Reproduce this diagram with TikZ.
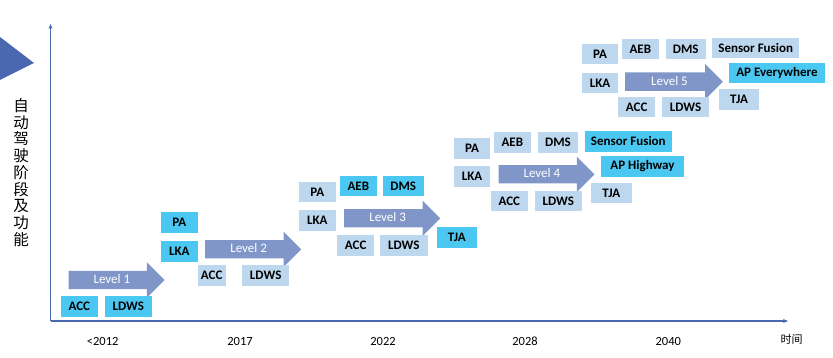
\documentclass[tikz,border=0pt]{standalone}
\usepackage{fontspec}
\setmainfont{Carlito}
\newfontfamily\cjk{Noto Sans CJK SC}
\usetikzlibrary{shapes.arrows,arrows.meta}
\definecolor{axisblue}{HTML}{4A68B0}
\definecolor{newfeat}{HTML}{4BC8F2}
\definecolor{oldfeat}{HTML}{BDD7EE}
\definecolor{lvlblue}{HTML}{8096C8}
\begin{document}
\begin{tikzpicture}[x=1pt, y=-1pt, line join=round, >={Stealth[length=5pt,width=4pt]}]
    \tikzset{
        feat/.style={inner sep=0pt, minimum height=20.5pt, minimum width=36.7pt, font=\bfseries\fontsize{13}{13}\selectfont},
        featnew/.style={feat, fill=newfeat},
        featold/.style={feat, fill=oldfeat},
        lvl/.style={single arrow, fill=lvlblue, text=white, anchor=tail, minimum height=96pt,
            single arrow head extend=8.5pt, text height=8pt, text depth=1pt, inner ysep=4.5pt, inner xsep=2pt,
            font=\fontsize{13}{13}\selectfont},
        yr/.style={font=\fontsize{12.5}{12.5}\selectfont}
    }
    \useasboundingbox (0,0) rectangle (833,358);
    % marker on the left
    \fill[axisblue] (0,37) -- (34,63) -- (0,80) -- cycle;
    \node[font=\cjk\fontsize{15.5}{16.75}\selectfont, align=center] (ylab) at (21,172.5) {自\\动\\驾\\驶\\阶\\段\\及\\功\\能};
    % axes
    \coordinate (origin) at (50.5,321);
    \coordinate (ytop) at (50.5,24);
    \coordinate (xend) at (788,321);
    \draw[->, axisblue, line width=1.1pt] (origin) -- (ytop);
    \draw[->, axisblue, line width=1.1pt] (origin) -- (xend);
    \node[font=\cjk\fontsize{11}{11}\selectfont] (xlab) at (791.7,339) {时间};
    \foreach \x/\t [count=\i] in {102.7/<2012, 240/2017, 383/2022, 525/2028, 668.3/2040}
        \node[yr] (yr\i) at (\x,341) {\t};
    % level 1
    \node[lvl] (lv1) at (68.3,280) {Level 1};
    \node[featnew] (acc1) at (79.3,306.3) {ACC};
    \node[featnew, minimum width=46.7pt] (ldws1) at (128.3,306.3) {LDWS};
    % level 2
    \node[featnew] (pa2) at (179.3,222.5) {PA};
    \node[featnew] (lka2) at (179.3,251.3) {LKA};
    \node[lvl] (lv2) at (205,249.3) {Level 2};
    \node[featold, minimum width=28pt] (acc2) at (211.7,275.3) {ACC};
    \node[featold, minimum width=46.7pt] (ldws2) at (265.7,275.3) {LDWS};
    % level 3
    \node[featold] (pa3) at (317.3,192) {PA};
    \node[featold] (lka3) at (317.3,220.3) {LKA};
    \node[featnew] (aeb3) at (358.3,185.8) {AEB};
    \node[featnew, minimum width=41pt] (dms3) at (403.2,185.8) {DMS};
    \node[lvl] (lv3) at (344,218.3) {Level 3};
    \node[featold] (acc3) at (355.7,245.3) {ACC};
    \node[featold, minimum width=47.7pt] (ldws3) at (403.8,245.3) {LDWS};
    \node[featnew, minimum width=40pt] (tja3) at (456.7,237.5) {TJA};
    % level 4
    \node[featold, minimum width=36pt] (pa4) at (472,148.3) {PA};
    \node[featold, minimum width=36pt] (lka4) at (472,176.3) {LKA};
    \node[featold] (aeb4) at (512.3,142.5) {AEB};
    \node[featold, minimum width=39.3pt] (dms4) at (558,142.5) {DMS};
    \node[featnew, minimum width=86.7pt] (sf4) at (628.3,141.3) {Sensor Fusion};
    \node[featnew, minimum width=83pt] (aph4) at (642.5,166.3) {AP Highway};
    \node[lvl] (lv4) at (498.3,174.3) {Level 4};
    \node[featold, minimum width=40.7pt] (tja4) at (611.3,193) {TJA};
    \node[featold] (acc4) at (509.3,200.8) {ACC};
    \node[featold, minimum width=46.7pt] (ldws4) at (558.3,200.8) {LDWS};
    % level 5
    \node[featold] (pa5) at (600,54.2) {PA};
    \node[featold, minimum width=37.3pt] (aeb5) at (640.3,48.8) {AEB};
    \node[featold, minimum width=40pt] (dms5) at (685.7,48.8) {DMS};
    \node[featold, minimum width=86.7pt] (sf5) at (755.7,47.8) {Sensor Fusion};
    \node[featold] (lka5) at (600,82.8) {LKA};
    \node[lvl, minimum height=97.7pt] (lv5) at (625,81.7) {Level 5};
    \node[featnew, minimum width=96pt] (ape5) at (777,73) {AP Everywhere};
    \node[featold, minimum width=40pt] (tja5) at (739,99.3) {TJA};
    \node[featold] (acc5) at (636.7,107.2) {ACC};
    \node[featold, minimum width=47.7pt] (ldws5) at (685.5,107.2) {LDWS};
\end{tikzpicture}
\end{document}
